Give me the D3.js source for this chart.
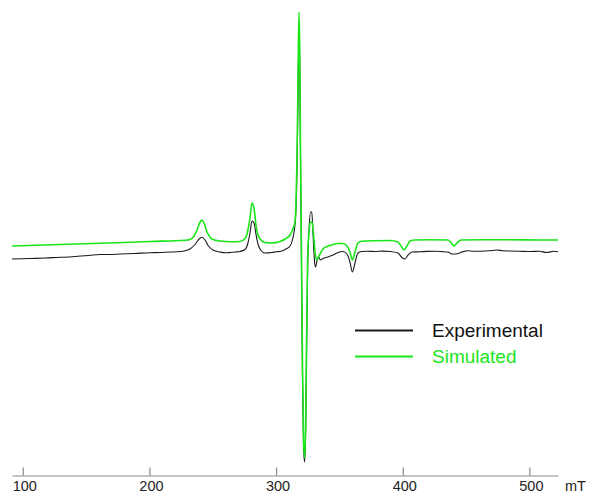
<!DOCTYPE html>
<html><head><meta charset="utf-8">
<script src="https://cdn.jsdelivr.net/npm/d3@7"></script>
<style>html,body{margin:0;padding:0;background:#fff;}svg{display:block;}</style>
</head><body>
<svg id="chart" width="589" height="493"></svg>
<script>
// Field positions (mT) and intensities (arbitrary units)
const simField = [91.55,129.4,161.0,200.5,228.1,232.0,235.2,237.6,240.0,241.5,243.1,245.5,247.8,250.2,255.7,263.6,271.5,275.5,277.8,279.4,281.0,282.6,284.1,285.7,288.1,291.2,296.8,303.1,307.8,311.0,313.3,314.9,315.7,316.5,317.3,318.1,318.6,319.3,320.1,320.9,321.7,322.5,323.3,324.1,324.9,326.1,327.2,328.4,329.6,330.8,332.0,333.1,334.7,337.0,341.0,344.9,348.9,352.8,356.0,358.3,360.3,362.3,364.6,367.8,378.1,389.9,396.2,398.6,401.0,403.4,405.8,409.7,421.5,435.7,438.1,440.5,442.8,446.0,461.0,484.7,508.4,522.6];
const simValues = [-1,0.5,1.7,3.5,4.8,5.5,9,15,23,25,22,13,8,5.5,4,3.3,3.5,6.5,15,27,42,37,20,10,5,2.5,2,3.5,6.5,10,16,23,40,85,165,233,205,95,-15,-125,-195,-213,-185,-95,-15,15,23,23,10,-7,-15,-13,-9,-4,-1,0.5,1.5,1.5,-1,-7,-15,-7,2,3.8,4.3,4.5,3,-1,-5,-1,4,5,5.3,5,2.5,-1,2,5,5.2,5.2,5,5];

const expField = [91.55,105.8,118.0,129.4,137.0,145.2,152.0,161.0,168.5,176.8,188.0,200.5,208.0,216.3,222.0,228.1,232.0,236.0,239.2,241.5,243.9,246.3,250.2,255.7,260.0,263.6,268.0,271.5,275.5,277.8,279.4,281.0,282.6,284.1,285.7,288.1,291.2,296.8,300.0,303.1,307.8,311.0,313.3,314.9,315.7,316.5,317.3,318.1,318.6,319.3,320.1,320.9,321.7,322.5,323.3,324.1,324.9,326.1,327.2,328.2,329.2,330.4,331.2,332.4,333.5,335.1,337.0,341.0,344.9,348.9,352.8,356.0,358.3,360.3,362.3,364.6,367.8,372.0,378.1,384.0,389.9,396.2,399.4,401.8,404.2,407.4,413.7,419.0,425.5,431.0,435.7,438.9,442.0,446.8,451.5,456.0,461.0,468.0,474.4,479.0,484.7,492.0,500.5,508.0,513.5,516.3,519.0,522.6];
const expValues = [-14,-13.5,-13,-12.3,-12,-11,-10.5,-9.5,-9.5,-9,-8.5,-7.7,-7.5,-7,-6.8,-5.7,-4,0.5,6,7.7,5,-0.5,-5,-7,-7.8,-7.5,-7,-6.5,-4.5,2,12,24,22,11,1,-5.5,-8,-7.5,-6.8,-6.5,-4,-1,7,20,35,75,145,212,190,85,-25,-135,-203,-217,-190,-105,-25,17,33,33,10,-17,-22,-15,-12,-15,-13.5,-12,-10,-7.5,-6.5,-9,-17,-27,-18,-8,-6.5,-6.2,-6.5,-6.1,-6.5,-8,-12.5,-14,-10,-7,-6.8,-6.4,-6.3,-6.6,-7,-9,-9,-7,-5.7,-6.3,-6.2,-5.8,-5,-5.8,-6,-6.2,-6.5,-6.2,-7.5,-7,-6.2,-6.7];

const tickValues = [100, 200, 300, 400, 500];
const tickLabels = ["100", "200", "300", "400", "500"];
const unitLabel = "mT";
const seriesNames = ["Experimental", "Simulated"];
const seriesColors = ["#1a1a1a", "#19e619"];

const svg = d3.select("#chart");
const x = d3.scaleLinear().domain([91.5, 522.6]).range([12, 558]);
const y = d3.scaleLinear().domain([-250, 250]).range([495, -5]);

// axis
const axisY = 475.5;
const axis = d3.axisBottom(x).tickValues(tickValues)
  .tickFormat((d, i) => tickLabels[i]).tickSizeInner(-8).tickSizeOuter(0).tickPadding(3);
const ag = svg.append("g").attr("transform", `translate(0,${axisY})`).call(axis);
ag.select(".domain").attr("stroke", "#8a8a8a").attr("stroke-width", 1.2);
ag.selectAll(".tick line").attr("stroke", "#8a8a8a").attr("stroke-width", 1.2);
ag.selectAll(".tick text").attr("y", 15.5).attr("dy", null).attr("dx", 1.5)
  .attr("font-family", "Liberation Sans, Arial, sans-serif").attr("font-size", 14.5).attr("fill", "#222");
svg.append("text").attr("x", 565).attr("y", axisY + 15.5)
  .attr("font-family", "Liberation Sans, Arial, sans-serif").attr("font-size", 14.5).attr("fill", "#222")
  .text(unitLabel);

const line = d3.line().x(d => x(d[0])).y(d => y(d[1])).curve(d3.curveMonotoneX);

svg.append("path").datum(expField.map((f, i) => [f, expValues[i]]))
  .attr("d", line).attr("fill", "none").attr("stroke", seriesColors[0]).attr("stroke-width", 1.1);
svg.append("path").datum(simField.map((f, i) => [f, simValues[i]]))
  .attr("d", line).attr("fill", "none").attr("stroke", seriesColors[1]).attr("stroke-width", 1.6);

// legend
const lg = svg.append("g");
seriesNames.forEach((name, i) => {
  const ly = 330.5 + i * 26;
  lg.append("line").attr("x1", 355).attr("x2", 413).attr("y1", ly).attr("y2", ly)
    .attr("stroke", seriesColors[i]).attr("stroke-width", 2);
  lg.append("text").attr("x", 432).attr("y", ly).attr("dy", "0.35em")
    .attr("font-family", "Liberation Sans, Arial, sans-serif").attr("font-size", 19)
    .attr("fill", i === 0 ? "#111" : "#19e619").text(name);
});
</script>
</body></html>
